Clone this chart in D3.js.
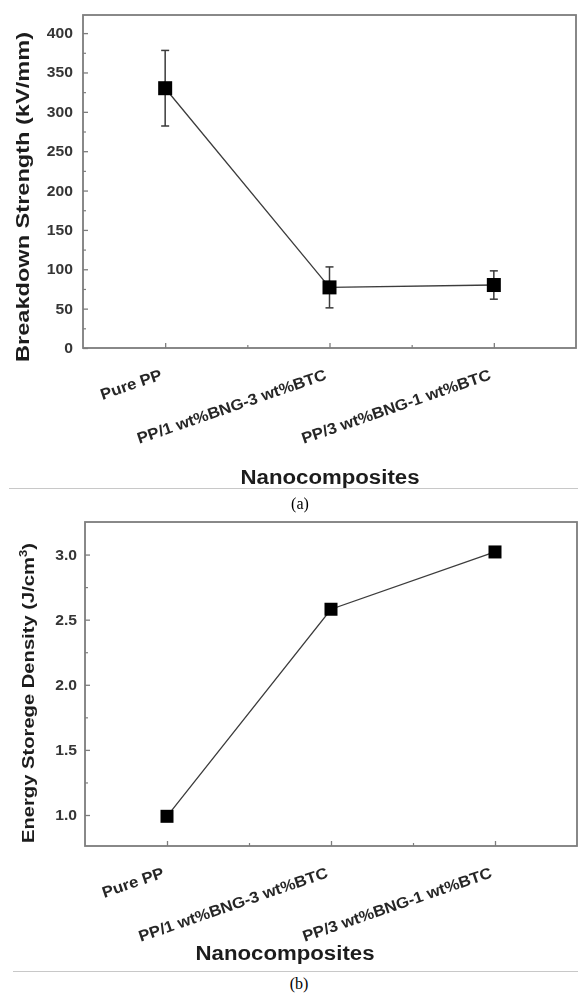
<!DOCTYPE html>
<html>
<head>
<meta charset="utf-8">
<script src="https://cdn.jsdelivr.net/npm/d3@7"></script>
<style>
  html, body { margin: 0; padding: 0; background: #fff; }
  svg { display: block; }
</style>
</head>
<body>
<svg id="fig" width="578" height="994"></svg>
<script>
// Sample categories shared by both panels
const categories = ["Pure PP", "PP/1 wt%BNG-3 wt%BTC", "PP/3 wt%BNG-1 wt%BTC"];

// (a) breakdown strength, kV/mm, with error half-widths
const breakdownValues = [330, 77, 80];
const breakdownErrors = [48, 26, 18];
const breakdownTicks = [0, 50, 100, 150, 200, 250, 300, 350, 400];
const breakdownMinor = [25, 75, 125, 175, 225, 275, 325, 375];

// (b) energy storage density, J/cm^3
const energyValues = [0.99, 2.58, 3.02];
const energyTicks = [1.0, 1.5, 2.0, 2.5, 3.0];
const energyMinor = [1.25, 1.75, 2.25, 2.75];

const svg = d3.select("#fig");
const SANS = "'Liberation Sans', Arial, sans-serif";
const SERIF = "'Liberation Serif', 'Times New Roman', serif";
const FRAME = "#7d7d7d";

const defs = svg.append("defs");
defs.append("filter").attr("id", "soft")
  .attr("x", "-5%").attr("y", "-5%").attr("width", "110%").attr("height", "110%")
  .append("feGaussianBlur").attr("stdDeviation", 0.45);

// stretch a text element horizontally to a target width factor
function stretch(sel, factor) {
  sel.each(function () {
    const w = this.getComputedTextLength();
    d3.select(this).attr("textLength", w * factor).attr("lengthAdjust", "spacingAndGlyphs");
  });
}

function drawPanel(o) {
  const g = svg.append("g").attr("filter", "url(#soft)");
  const x = d3.scaleLinear().domain([0.5, 3.5]).range([o.left, o.right]);
  const y = d3.scaleLinear().domain(o.yDomain).range([o.bottom, o.top]);

  // minor y ticks
  const minor = g.append("g").attr("transform", `translate(${o.left},0)`)
    .call(d3.axisLeft(y).tickValues(o.minor).tickSize(-3).tickFormat(""));
  minor.select(".domain").remove();
  minor.selectAll("line").attr("stroke", FRAME).attr("stroke-width", 1.2);

  // major y ticks + labels
  const yAx = g.append("g").attr("transform", `translate(${o.left},0)`)
    .call(d3.axisLeft(y).tickValues(o.ticks).tickSize(-5).tickPadding(o.tickPad).tickFormat(o.fmt));
  yAx.select(".domain").remove();
  yAx.selectAll("line").attr("stroke", FRAME).attr("stroke-width", 1.3);
  yAx.selectAll("text")
    .attr("font-family", SANS).attr("font-weight", "bold").attr("font-size", 14)
    .attr("fill", "#363636")
    .call(stretch, 1.12);

  // x ticks: categories and mid-points
  const xAx = g.append("g").attr("transform", `translate(0,${o.bottom})`)
    .call(d3.axisBottom(x).tickValues(d3.range(1, categories.length + 1)).tickSize(-5).tickFormat(""));
  xAx.select(".domain").remove();
  xAx.selectAll("line").attr("stroke", FRAME).attr("stroke-width", 1.3);
  const xMin = g.append("g").attr("transform", `translate(0,${o.bottom})`)
    .call(d3.axisBottom(x).tickValues(d3.range(1.5, categories.length, 1)).tickSize(-3).tickFormat(""));
  xMin.select(".domain").remove();
  xMin.selectAll("line").attr("stroke", FRAME).attr("stroke-width", 1.2);

  // frame
  g.append("rect")
    .attr("x", o.left).attr("y", o.top)
    .attr("width", o.right - o.left).attr("height", o.bottom - o.top)
    .attr("fill", "none").attr("stroke", FRAME).attr("stroke-width", 1.8);

  // rotated category labels
  g.selectAll("text.cat").data(categories).join("text")
    .attr("class", "cat")
    .attr("transform", (d, i) => `translate(${x(i + 1) - 2},${o.bottom + 31}) rotate(-19)`)
    .attr("text-anchor", "end")
    .attr("font-family", SANS).attr("font-weight", "bold").attr("font-size", 15.5)
    .attr("fill", "#262626")
    .text(d => d)
    .call(stretch, 1.08);

  // axis titles
  g.append("text")
    .attr("x", o.xTitleX).attr("y", o.xTitleY)
    .attr("text-anchor", "middle")
    .attr("font-family", SANS).attr("font-weight", "bold").attr("font-size", 19.5)
    .attr("fill", "#1e1e1e")
    .text("Nanocomposites")
    .attr("textLength", o.xTitleW).attr("lengthAdjust", "spacingAndGlyphs");

  const yt = g.append("text")
    .attr("transform", `translate(${o.yTitleX},${o.yTitleY}) rotate(-90)`)
    .attr("text-anchor", "middle")
    .attr("font-family", SANS).attr("font-weight", "bold").attr("font-size", o.yTitleSize)
    .attr("fill", "#1e1e1e");
  o.yTitle(yt);
  yt.attr("textLength", o.yTitleLen).attr("lengthAdjust", "spacingAndGlyphs");

  // connecting line
  const vals = o.values;
  const line = d3.line().x((d, i) => x(i + 1)).y(d => y(d));
  g.append("path").datum(vals)
    .attr("d", line).attr("fill", "none")
    .attr("stroke", "#3c3c3c").attr("stroke-width", 1.3);

  // error bars
  if (o.errors) {
    const eb = g.selectAll("g.err").data(vals).join("g").attr("class", "err");
    eb.append("line")
      .attr("x1", (d, i) => x(i + 1)).attr("x2", (d, i) => x(i + 1))
      .attr("y1", (d, i) => y(d + o.errors[i])).attr("y2", (d, i) => y(d - o.errors[i]))
      .attr("stroke", "#3a3a3a").attr("stroke-width", 1.5);
    [1, -1].forEach(s => {
      eb.append("line")
        .attr("x1", (d, i) => x(i + 1) - 4).attr("x2", (d, i) => x(i + 1) + 4)
        .attr("y1", (d, i) => y(d + s * o.errors[i])).attr("y2", (d, i) => y(d + s * o.errors[i]))
        .attr("stroke", "#3a3a3a").attr("stroke-width", 1.5);
    });
  }

  // square markers
  const sz = o.marker;
  g.selectAll("rect.pt").data(vals).join("rect")
    .attr("class", "pt")
    .attr("x", (d, i) => x(i + 1) - sz / 2).attr("y", d => y(d) - sz / 2)
    .attr("width", sz).attr("height", sz)
    .attr("fill", "#000");

  // separator and caption
  svg.append("line")
    .attr("x1", o.sepX).attr("x2", 578).attr("y1", o.sepY).attr("y2", o.sepY)
    .attr("stroke", "#c8c8c8").attr("stroke-width", 1);
  svg.append("text")
    .attr("x", o.capX).attr("y", o.capY).attr("text-anchor", "middle")
    .attr("font-family", SERIF).attr("font-size", 16).attr("fill", "#000")
    .text(o.caption);
}

drawPanel({
  left: 83, right: 576, top: 15, bottom: 348,
  yDomain: [0, 423],
  ticks: breakdownTicks, minor: breakdownMinor, tickPad: 10,
  fmt: d3.format("d"),
  values: breakdownValues, errors: breakdownErrors, marker: 14,
  xTitleX: 330, xTitleY: 484, xTitleW: 179,
  yTitleX: 29, yTitleY: 197, yTitleSize: 19, yTitleLen: 330,
  yTitle: t => t.text("Breakdown Strength (kV/mm)"),
  sepX: 9, sepY: 488.5, capX: 300, capY: 509, caption: "(a)"
});

drawPanel({
  left: 85, right: 577, top: 522, bottom: 846,
  yDomain: [0.762, 3.25],
  ticks: energyTicks, minor: energyMinor, tickPad: 8,
  fmt: d3.format(".1f"),
  values: energyValues, errors: null, marker: 13,
  xTitleX: 285, xTitleY: 960, xTitleW: 179,
  yTitleX: 34, yTitleY: 693, yTitleSize: 17, yTitleLen: 300,
  yTitle: t => {
    t.append("tspan").text("Energy Storege Density (J/cm");
    t.append("tspan").attr("dy", -7).attr("font-size", 11).text("3");
    t.append("tspan").attr("dy", 7).text(")");
  },
  sepX: 13, sepY: 971.5, capX: 299, capY: 989, caption: "(b)"
});
</script>
</body>
</html>
